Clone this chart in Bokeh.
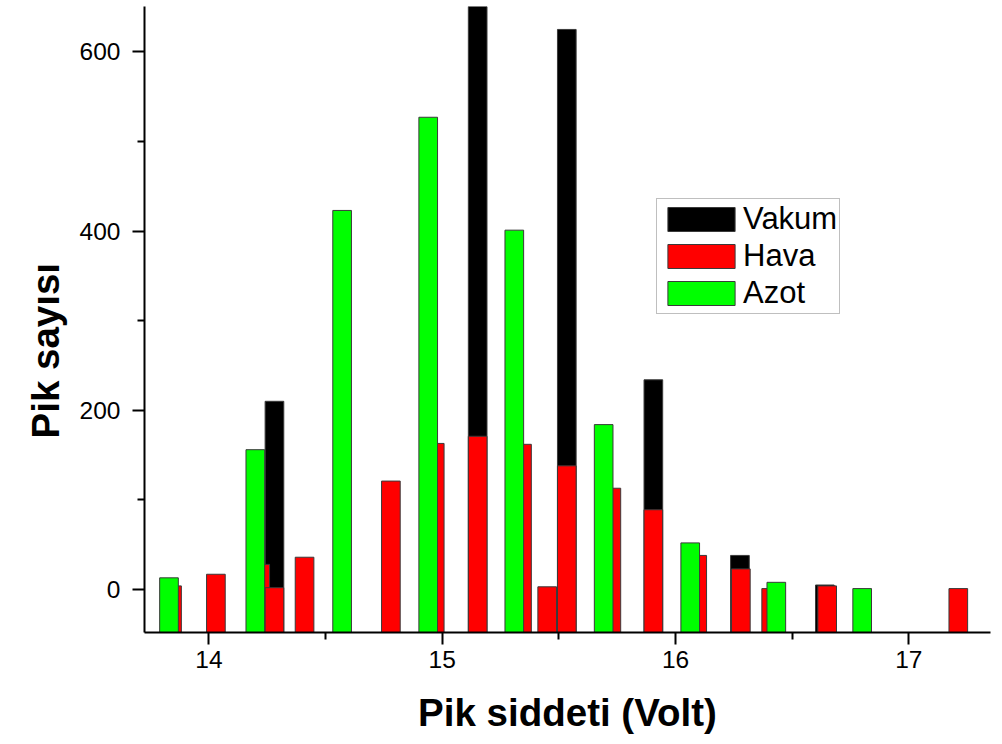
import math
from bokeh.plotting import figure
from bokeh.models import ColumnDataSource, Range1d, FixedTicker, Legend, LegendItem, Title
from bokeh.embed import file_html
from bokeh.resources import INLINE

# --- data ---
vakum_x = [14.281, 15.152, 15.534, 15.905, 16.276, 16.640]
vakum_y = [210, 720, 625, 234, 38, 5]

hava_x = [13.842, 14.030, 14.220, 14.281, 14.410, 14.780, 14.968, 15.152, 15.342,
          15.450, 15.534, 15.725, 15.905, 16.093, 16.280, 16.410, 16.650, 17.212]
hava_y = [4, 17, 28, 2, 36, 121, 163, 171, 162, 3, 138, 113, 89, 38, 23, 1, 4, 1]

azot_x = [13.829, 14.199, 14.571, 14.940, 15.309, 15.692, 16.063, 16.432, 16.800]
azot_y = [13, 156, 423, 527, 401, 184, 52, 8, 1]

series_names = ["Vakum", "Hava", "Azot"]
x_ticks = [14, 15, 16, 17]
x_minor = [14.5, 15.5, 16.5]
y_ticks = [0, 200, 400, 600]
y_minor = [100, 300, 500]

X0, X1 = 13.724, 17.350
Y0, Y1 = -48, 650.6
BAR_W = 0.080

FONT = "Liberation Sans"

p = figure(width=994, height=740, output_backend="svg", toolbar_location=None,
           x_range=Range1d(X0, X1), y_range=Range1d(Y0, Y1),
           min_border_left=144, min_border_right=4, min_border_top=6, min_border_bottom=108)
p.outline_line_color = None
p.xgrid.visible = False
p.ygrid.visible = False
p.background_fill_color = "white"
p.border_fill_color = "white"

def bars(xs, ys, color):
    src = ColumnDataSource(dict(x=xs, top=ys, bottom=[Y0] * len(xs)))
    return p.vbar(x="x", top="top", bottom="bottom", width=BAR_W, source=src,
                  fill_color=color, line_color="#3a3a3a", line_width=1)

r_v = bars(vakum_x, vakum_y, "#000000")
r_h = bars(hava_x, hava_y, "#ff0000")
r_a = bars(azot_x, azot_y, "#00ff00")

for ax, maj, mino in ((p.xaxis[0], x_ticks, x_minor), (p.yaxis[0], y_ticks, y_minor)):
    ax.ticker = FixedTicker(ticks=maj, minor_ticks=mino)
    ax.axis_line_width = 2
    ax.axis_line_color = "black"
    ax.major_tick_in = 0
    ax.major_tick_out = 12
    ax.minor_tick_in = 0
    ax.minor_tick_out = 7
    ax.major_tick_line_width = 2
    ax.minor_tick_line_width = 2
    ax.major_label_text_font = FONT
    ax.major_label_text_font_size = "24.5px"
    ax.major_label_text_color = "black"

p.xaxis.major_label_standoff = 6
p.yaxis.major_label_standoff = 12

p.xaxis.axis_label = "Pik siddeti (Volt)"
p.xaxis.axis_label_text_font = FONT
p.xaxis.axis_label_text_font_size = "38.5px"
p.xaxis.axis_label_text_font_style = "bold"
p.xaxis.axis_label_text_color = "black"
p.xaxis.axis_label_standoff = 20

ytitle = Title(text="Pik sayısı", align="left", offset=194, standoff=19,
               text_font=FONT, text_font_size="38.5px", text_font_style="bold",
               text_color="black")
p.add_layout(ytitle, "left")

legend = Legend(items=[LegendItem(label=series_names[0], renderers=[r_v]),
                       LegendItem(label=series_names[1], renderers=[r_h]),
                       LegendItem(label=series_names[2], renderers=[r_a])],
                location=(512, 318))
legend.glyph_width = 84
legend.glyph_height = 30
legend.label_height = 30
legend.spacing = 1
legend.padding = 2
legend.margin = 0
legend.label_standoff = 0
legend.label_text_font = FONT
legend.label_text_font_size = "31px"
legend.label_text_color = "black"
legend.border_line_color = "#808080"
legend.border_line_width = 1.5
legend.background_fill_alpha = 1
p.add_layout(legend)

open("out.html", "w").write(file_html(p, INLINE))
